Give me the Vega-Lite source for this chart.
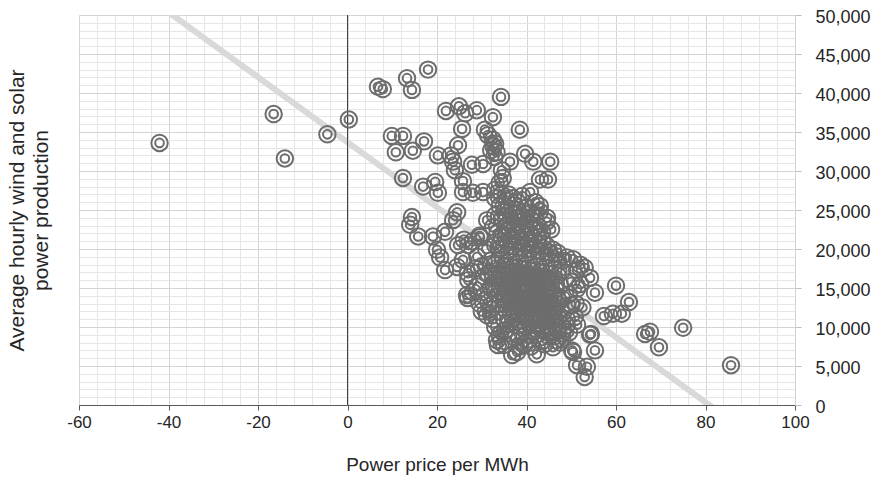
{
  "$schema": "https://vega.github.io/schema/vega-lite/v6.json",
  "width": 716,
  "height": 390,
  "autosize": {"type": "none"},
  "padding": {"left": 79, "top": 15, "right": 90, "bottom": 79},
  "background": "white",
  "config": {
    "view": {"stroke": null},
    "font": "Liberation Sans",
    "axis": {"labelFont": "Liberation Sans", "titleFont": "Liberation Sans", "labelColor": "#262626", "titleColor": "#262626", "titleFontWeight": "normal"}
  },
  "datasets": {
    "trend": [{"price": -42, "prod": 51200}, {"price": 86, "prod": -2150}],
    "zero": [{"price": 0}],
    "pts": [
      {"price": -42, "prod": 33600}, {"price": -16.5, "prod": 37300}, {"price": -14, "prod": 31600}, {"price": -4.5, "prod": 34700},
      {"price": 0.3, "prod": 36600}, {"price": 6.8, "prod": 40800}, {"price": 7.9, "prod": 40500}, {"price": 13.3, "prod": 41900},
      {"price": 14.4, "prod": 40400}, {"price": 18, "prod": 43000}, {"price": 22, "prod": 37700}, {"price": 24.9, "prod": 38300},
      {"price": 26.3, "prod": 37400}, {"price": 28.9, "prod": 37800}, {"price": 32.5, "prod": 36900}, {"price": 34.3, "prod": 39500},
      {"price": 25.6, "prod": 35400}, {"price": 30.7, "prod": 35300}, {"price": 31.4, "prod": 34600}, {"price": 32.5, "prod": 34000},
      {"price": 32.1, "prod": 32700}, {"price": 32.6, "prod": 33200}, {"price": 33, "prod": 33500}, {"price": 33.3, "prod": 32400},
      {"price": 32.8, "prod": 31800}, {"price": 38.5, "prod": 35300}, {"price": 9.9, "prod": 34500}, {"price": 12.4, "prod": 34500},
      {"price": 10.8, "prod": 32400}, {"price": 14.6, "prod": 32600}, {"price": 17.1, "prod": 33800}, {"price": 20.2, "prod": 32000},
      {"price": 23.1, "prod": 32000}, {"price": 23.6, "prod": 31200}, {"price": 24.7, "prod": 33300}, {"price": 24, "prod": 30100},
      {"price": 27.8, "prod": 30800}, {"price": 30.3, "prod": 30900}, {"price": 36.3, "prod": 31200}, {"price": 39.7, "prod": 32200},
      {"price": 41.5, "prod": 31200}, {"price": 45.3, "prod": 31200}, {"price": 43, "prod": 28900}, {"price": 44.8, "prod": 28900},
      {"price": 34.5, "prod": 30100}, {"price": 34.7, "prod": 29100}, {"price": 25.8, "prod": 28700}, {"price": 12.4, "prod": 29100},
      {"price": 16.9, "prod": 28000}, {"price": 19.6, "prod": 28600}, {"price": 20.2, "prod": 27200}, {"price": 25.8, "prod": 27300},
      {"price": 28, "prod": 27200}, {"price": 30.3, "prod": 27300}, {"price": 33, "prod": 27600}, {"price": 34, "prod": 28500},
      {"price": 40.8, "prod": 27300}, {"price": 44.6, "prod": 24000}, {"price": 14.4, "prod": 24100}, {"price": 14, "prod": 23100},
      {"price": 15.8, "prod": 21600}, {"price": 19.1, "prod": 21600}, {"price": 21.8, "prod": 22200}, {"price": 24.5, "prod": 24700},
      {"price": 23.6, "prod": 23700}, {"price": 20, "prod": 19900}, {"price": 20.7, "prod": 18900}, {"price": 21.8, "prod": 17300},
      {"price": 24.7, "prod": 20500}, {"price": 25.8, "prod": 18600}, {"price": 26.9, "prod": 16900}, {"price": 29.6, "prod": 21500},
      {"price": 31.2, "prod": 23700}, {"price": 24.5, "prod": 17700}, {"price": 26.7, "prod": 14100}, {"price": 26.9, "prod": 13700},
      {"price": 31.2, "prod": 11500}, {"price": 33.6, "prod": 7700}, {"price": 36.8, "prod": 6400}, {"price": 37.9, "prod": 6800},
      {"price": 42.3, "prod": 6500}, {"price": 35.2, "prod": 9600}, {"price": 33.4, "prod": 8300}, {"price": 45.9, "prod": 19900},
      {"price": 49, "prod": 18900}, {"price": 51.3, "prod": 17300}, {"price": 53, "prod": 17600}, {"price": 54.2, "prod": 16300},
      {"price": 55.3, "prod": 14400}, {"price": 50.8, "prod": 11300}, {"price": 51.3, "prod": 10300}, {"price": 54.2, "prod": 9000},
      {"price": 55.3, "prod": 7000}, {"price": 50.4, "prod": 6800}, {"price": 51.3, "prod": 5100}, {"price": 53.5, "prod": 4900},
      {"price": 53, "prod": 3600}, {"price": 47.5, "prod": 8000}, {"price": 45.9, "prod": 7400}, {"price": 50.2, "prod": 7000},
      {"price": 50.4, "prod": 18700}, {"price": 51.3, "prod": 14900}, {"price": 60, "prod": 15300}, {"price": 62.9, "prod": 13200},
      {"price": 57.3, "prod": 11400}, {"price": 59.3, "prod": 11700}, {"price": 61.3, "prod": 11700}, {"price": 66.5, "prod": 9100},
      {"price": 67.6, "prod": 9400}, {"price": 69.6, "prod": 7400}, {"price": 75, "prod": 9900}, {"price": 85.7, "prod": 5100},
      {"price": 54.4, "prod": 9100},
      {"price": 27, "prod": 16000}, {"price": 28, "prod": 14500}, {"price": 29, "prod": 15200}, {"price": 29.5, "prod": 13000},
      {"price": 30, "prod": 12000}, {"price": 30.5, "prod": 14000}, {"price": 31.5, "prod": 13200}, {"price": 32, "prod": 12300},
      {"price": 32.5, "prod": 11000}, {"price": 33, "prod": 10000}, {"price": 34, "prod": 9000}, {"price": 38.5, "prod": 7500},
      {"price": 35, "prod": 7700}, {"price": 28.5, "prod": 17500}, {"price": 29, "prod": 19000}, {"price": 30, "prod": 17800},
      {"price": 30.5, "prod": 16500}, {"price": 31, "prod": 20000}, {"price": 28, "prod": 21000}, {"price": 27, "prod": 20500},
      {"price": 26, "prod": 21200}, {"price": 29.5, "prod": 21700}, {"price": 32.5, "prod": 22800}, {"price": 33, "prod": 24300},
      {"price": 33, "prod": 26500}, {"price": 34.5, "prod": 27000}, {"price": 35.5, "prod": 26200}, {"price": 36, "prod": 27000},
      {"price": 37, "prod": 26500}, {"price": 38, "prod": 26000}, {"price": 39, "prod": 26800}, {"price": 42, "prod": 26000},
      {"price": 43, "prod": 25500}, {"price": 45.5, "prod": 22500}, {"price": 47, "prod": 19500}, {"price": 48, "prod": 18500},
      {"price": 52, "prod": 18000}, {"price": 52, "prod": 15500}, {"price": 50, "prod": 15800}, {"price": 49.5, "prod": 14200},
      {"price": 50, "prod": 12800}, {"price": 51, "prod": 13000}, {"price": 52.5, "prod": 12500}, {"price": 49, "prod": 10200},
      {"price": 49.5, "prod": 9300}, {"price": 48, "prod": 8400}, {"price": 44, "prod": 7800}, {"price": 41, "prod": 7500},
      {"price": 39.5, "prod": 7800},
      {"price": 34, "prod": 25500}, {"price": 35, "prod": 24800}, {"price": 36, "prod": 25200}, {"price": 37, "prod": 24500},
      {"price": 38, "prod": 25000}, {"price": 39, "prod": 24200}, {"price": 40, "prod": 25300}, {"price": 41, "prod": 24600},
      {"price": 42, "prod": 24000}, {"price": 43, "prod": 24800}, {"price": 44.5, "prod": 23500},
      {"price": 34.5, "prod": 23800}, {"price": 35.5, "prod": 23000}, {"price": 36.5, "prod": 23600}, {"price": 37.5, "prod": 22800},
      {"price": 38.5, "prod": 23400}, {"price": 39.5, "prod": 22600}, {"price": 40.5, "prod": 23200}, {"price": 41.5, "prod": 22400},
      {"price": 42.5, "prod": 23000}, {"price": 43.5, "prod": 22200},
      {"price": 33.5, "prod": 22000}, {"price": 34.5, "prod": 21500}, {"price": 35.5, "prod": 22200}, {"price": 36.5, "prod": 21200},
      {"price": 37.5, "prod": 21800}, {"price": 38.5, "prod": 21000}, {"price": 39.5, "prod": 21600}, {"price": 40.5, "prod": 20800},
      {"price": 41.5, "prod": 21400}, {"price": 42.5, "prod": 20600}, {"price": 43.5, "prod": 21200}, {"price": 44.5, "prod": 20400},
      {"price": 33, "prod": 20500}, {"price": 34, "prod": 20000}, {"price": 35, "prod": 20600}, {"price": 36, "prod": 19800},
      {"price": 37, "prod": 20400}, {"price": 38, "prod": 19600}, {"price": 39, "prod": 20200}, {"price": 40, "prod": 19400},
      {"price": 41, "prod": 20000}, {"price": 42, "prod": 19200}, {"price": 43, "prod": 19800}, {"price": 44, "prod": 19000},
      {"price": 45, "prod": 19600}, {"price": 46, "prod": 18800},
      {"price": 32, "prod": 18500}, {"price": 33, "prod": 18000}, {"price": 34, "prod": 18600}, {"price": 35, "prod": 17800},
      {"price": 36, "prod": 18400}, {"price": 37, "prod": 17600}, {"price": 38, "prod": 18200}, {"price": 39, "prod": 17400},
      {"price": 40, "prod": 18000}, {"price": 41, "prod": 17200}, {"price": 42, "prod": 17800}, {"price": 43, "prod": 17000},
      {"price": 44, "prod": 17600}, {"price": 45, "prod": 16800}, {"price": 46, "prod": 17400}, {"price": 47, "prod": 16600},
      {"price": 48, "prod": 17200},
      {"price": 31.5, "prod": 16800}, {"price": 32.5, "prod": 16200}, {"price": 33.5, "prod": 16800}, {"price": 34.5, "prod": 16000},
      {"price": 35.5, "prod": 16600}, {"price": 36.5, "prod": 15800}, {"price": 37.5, "prod": 16400}, {"price": 38.5, "prod": 15600},
      {"price": 39.5, "prod": 16200}, {"price": 40.5, "prod": 15400}, {"price": 41.5, "prod": 16000}, {"price": 42.5, "prod": 15200},
      {"price": 43.5, "prod": 15800}, {"price": 44.5, "prod": 15000}, {"price": 45.5, "prod": 15600}, {"price": 46.5, "prod": 14800},
      {"price": 47.5, "prod": 15400},
      {"price": 32, "prod": 15000}, {"price": 33, "prod": 14400}, {"price": 34, "prod": 15200}, {"price": 35, "prod": 14200},
      {"price": 36, "prod": 14800}, {"price": 37, "prod": 14000}, {"price": 38, "prod": 14600}, {"price": 39, "prod": 13800},
      {"price": 40, "prod": 14400}, {"price": 41, "prod": 13600}, {"price": 42, "prod": 14200}, {"price": 43, "prod": 13400},
      {"price": 44, "prod": 14000}, {"price": 45, "prod": 13200}, {"price": 46, "prod": 13800}, {"price": 47, "prod": 13000},
      {"price": 48, "prod": 13600},
      {"price": 34, "prod": 13000}, {"price": 35, "prod": 12400}, {"price": 36, "prod": 13100}, {"price": 37, "prod": 12200},
      {"price": 38, "prod": 12800}, {"price": 39, "prod": 12000}, {"price": 40, "prod": 12600}, {"price": 41, "prod": 11800},
      {"price": 42, "prod": 12400}, {"price": 43, "prod": 11600}, {"price": 44, "prod": 12200}, {"price": 45, "prod": 11400},
      {"price": 46, "prod": 12000}, {"price": 47, "prod": 11200}, {"price": 48, "prod": 11800}, {"price": 49, "prod": 11000},
      {"price": 35, "prod": 11000}, {"price": 36, "prod": 10400}, {"price": 37, "prod": 11100}, {"price": 38, "prod": 10200},
      {"price": 39, "prod": 10800}, {"price": 40, "prod": 10000}, {"price": 41, "prod": 10600}, {"price": 42, "prod": 9800},
      {"price": 43, "prod": 10400}, {"price": 44, "prod": 9600}, {"price": 45, "prod": 10200}, {"price": 46, "prod": 9400},
      {"price": 47, "prod": 10000}, {"price": 48, "prod": 9200},
      {"price": 36, "prod": 9200}, {"price": 37.5, "prod": 8600}, {"price": 39, "prod": 9400}, {"price": 40.5, "prod": 8400},
      {"price": 42, "prod": 9000}, {"price": 43.5, "prod": 8200}, {"price": 45, "prod": 8800}, {"price": 46.5, "prod": 8300},
      {"price": 38.5, "prod": 14300}, {"price": 39.2, "prod": 15100}, {"price": 40.8, "prod": 13100}, {"price": 41.6, "prod": 14800},
      {"price": 42.3, "prod": 13900}, {"price": 40.2, "prod": 16700}, {"price": 38.8, "prod": 16900}, {"price": 39.7, "prod": 12900},
      {"price": 41.1, "prod": 12300}, {"price": 42.7, "prod": 12900}, {"price": 43.9, "prod": 12700}, {"price": 44.6, "prod": 11900},
      {"price": 43.2, "prod": 14600}, {"price": 40.6, "prod": 11200}, {"price": 39.4, "prod": 11500}, {"price": 37.8, "prod": 13400},
      {"price": 36.9, "prod": 15300}, {"price": 35.8, "prod": 15900}, {"price": 37.2, "prod": 17100}, {"price": 41.9, "prod": 16500},
      {"price": 43.7, "prod": 16300}, {"price": 44.9, "prod": 14500}, {"price": 45.8, "prod": 12600}, {"price": 46.4, "prod": 11100},
      {"price": 44.2, "prod": 10900}, {"price": 42.4, "prod": 10900}, {"price": 38.2, "prod": 11900}, {"price": 36.4, "prod": 12000},
      {"price": 35.2, "prod": 13600}, {"price": 34.6, "prod": 14600}
    ]
  },
  "layer": [
    {
      "data": {"name": "trend"},
      "mark": {"type": "line", "color": "#d9d9d9", "strokeWidth": 6, "clip": true},
      "encoding": {
        "x": {"field": "price", "type": "quantitative", "scale": {"domain": [-60, 100], "nice": false, "zero": false}, "axis": null},
        "y": {"field": "prod", "type": "quantitative", "scale": {"domain": [0, 50000], "nice": false},
          "axis": {"orient": "left", "labels": false, "ticks": false, "domain": false, "grid": false,
            "title": ["Average hourly wind and solar", "power production"], "titleFontSize": 21, "titleLineHeight": 24, "titlePadding": 28}}
      }
    },
    {
      "data": {"name": "zero"},
      "mark": {"type": "rule", "color": "#404040", "strokeWidth": 1},
      "encoding": {
        "x": {"field": "price", "type": "quantitative", "axis": null}
      }
    },
    {
      "data": {"name": "pts"},
      "mark": {"type": "point", "shape": "circle", "filled": false, "size": 270, "strokeWidth": 2, "color": "#6d6d6d", "opacity": 1},
      "encoding": {
        "x": {"field": "price", "type": "quantitative",
          "axis": {"orient": "bottom", "title": "Power price per MWh", "titleFontSize": 19, "titlePadding": 25,
            "values": [-60,-56,-52,-48,-44,-40,-36,-32,-28,-24,-20,-16,-12,-8,-4,0,4,8,12,16,20,24,28,32,36,40,44,48,52,56,60,64,68,72,76,80,84,88,92,96,100],
            "labelExpr": "datum.value % 20 === 0 ? '' + datum.value : ''", "labelFontSize": 17, "labelPadding": 4, "labelOverlap": false, "labelFlush": false,
            "domainColor": "#595959", "domainWidth": 1, "tickColor": "#595959", "tickSize": 5,
            "tickOpacity": {"condition": {"test": "datum.value % 20 === 0", "value": 1}, "value": 0},
            "grid": true, "gridColor": {"condition": {"test": "datum.value % 20 === 0", "value": "#d4d4d4"}, "value": "#e6e6e6"}, "gridWidth": 1}},
        "y": {"field": "prod", "type": "quantitative",
          "axis": {"orient": "right", "title": null,
            "values": [0,1000,2000,3000,4000,5000,6000,7000,8000,9000,10000,11000,12000,13000,14000,15000,16000,17000,18000,19000,20000,21000,22000,23000,24000,25000,26000,27000,28000,29000,30000,31000,32000,33000,34000,35000,36000,37000,38000,39000,40000,41000,42000,43000,44000,45000,46000,47000,48000,49000,50000],
            "labelExpr": "datum.value % 5000 === 0 ? format(datum.value, ',') : ''", "labelFontSize": 18, "labelPadding": 14, "labelOffset": 2, "labelOverlap": false, "labelFlush": false,
            "domainColor": "#d4d4d4", "tickColor": "#bfbfbf", "tickSize": 6,
            "tickOpacity": {"condition": {"test": "datum.value % 5000 === 0", "value": 1}, "value": 0},
            "grid": true, "gridColor": {"condition": {"test": "datum.value % 5000 === 0", "value": "#d4d4d4"}, "value": "#e6e6e6"}, "gridWidth": 1}}
      }
    },
    {
      "data": {"name": "pts"},
      "mark": {"type": "point", "shape": "circle", "filled": false, "size": 75, "strokeWidth": 2, "color": "#6d6d6d", "opacity": 1},
      "encoding": {
        "x": {"field": "price", "type": "quantitative", "axis": null},
        "y": {"field": "prod", "type": "quantitative", "axis": null}
      }
    }
  ],
  "resolve": {"axis": {"x": "independent", "y": "independent"}}
}
